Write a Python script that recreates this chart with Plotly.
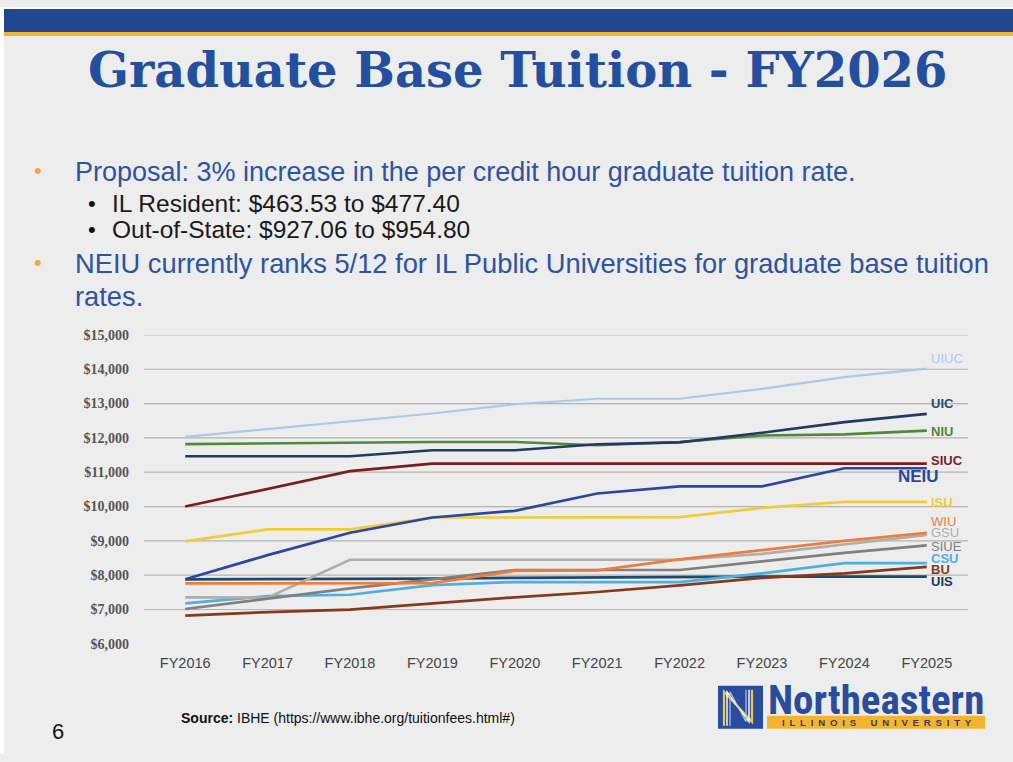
import plotly.graph_objects as go

W, H = 1013, 762

# ---------------- data ----------------
YEARS = ["FY2016", "FY2017", "FY2018", "FY2019", "FY2020",
         "FY2021", "FY2022", "FY2023", "FY2024", "FY2025"]

UIUC = [12030, 12250, 12480, 12710, 12980, 13140, 13140, 13430, 13770, 14020]
UIC = [11465, 11465, 11465, 11640, 11640, 11815, 11870, 12150, 12460, 12700]
NIU = [11820, 11840, 11880, 11880, 11880, 11785, 11880, 12070, 12105, 12210]
SIUC = [10000, 10525, 11030, 11250, 11250, 11250, 11250, 11250, 11250, 11250]
NEIU = [7880, 8585, 9235, 9680, 9875, 10380, 10590, 10590, 11115, 11115]
ISU = [8985, 9335, 9335, 9680, 9680, 9690, 9690, 9960, 10135, 10135]
WIU = [7760, 7760, 7760, 7770, 8125, 8140, 8460, 8730, 9000, 9230]
GSU = [7355, 7345, 8450, 8450, 8450, 8450, 8450, 8620, 8900, 9170]
SIUE = [7015, 7320, 7615, 7880, 8150, 8150, 8150, 8400, 8650, 8870]
CSU = [7180, 7390, 7430, 7710, 7800, 7800, 7800, 8050, 8350, 8350]
BU = [6820, 6925, 6995, 7180, 7355, 7510, 7700, 7920, 8050, 8240]
UIS = [7880, 7880, 7890, 7900, 7920, 7940, 7960, 7960, 7960, 7960]

Y_TICKS = [6000, 7000, 8000, 9000, 10000, 11000, 12000, 13000, 14000, 15000]
Y_TICK_TEXT = ["$6,000", "$7,000", "$8,000", "$9,000", "$10,000",
               "$11,000", "$12,000", "$13,000", "$14,000", "$15,000"]
GRID_VALUES = [7000, 8000, 9000, 10000, 11000, 12000, 13000, 14000, 15000]

SERIES = [
    ("UIUC", UIUC), ("UIS", UIS), ("CSU", CSU), ("GSU", GSU), ("SIUE", SIUE),
    ("WIU", WIU), ("BU", BU), ("ISU", ISU), ("SIUC", SIUC), ("NIU", NIU),
    ("UIC", UIC), ("NEIU", NEIU),
]

# ---------------- styles ----------------
COLORS = {
    "UIUC": "#A9CAEA", "UIC": "#213A64", "NIU": "#4F8A38", "SIUC": "#7A1E1E",
    "NEIU": "#2B47A0", "ISU": "#F0CB3A", "WIU": "#EB7E3C", "GSU": "#AEAEAE",
    "SIUE": "#808080", "CSU": "#4DB0E0", "BU": "#843B1A", "UIS": "#1D4A6E",
}
LABEL_COLORS = dict(COLORS)
LABEL_COLORS["UIC"] = "#23506E"
LABEL_COLORS["UIS"] = "#203A55"
# label vertical placement (value units) and style
LABEL_POS = {
    "UIUC": 14316, "UIC": 13007, "NIU": 12200, "SIUC": 11329, "NEIU": 10884,
    "ISU": 10118, "WIU": 9553, "GSU": 9233, "SIUE": 8826, "CSU": 8489,
    "BU": 8169, "UIS": 7809,
}
LABEL_BOLD = {"UIUC": False, "UIC": True, "NIU": True, "SIUC": True, "NEIU": True,
              "ISU": True, "WIU": False, "GSU": False, "SIUE": False, "CSU": True,
              "BU": True, "UIS": True}

BG = "#EDEDED"
BLUE_TEXT = "#2D53A3"
TITLE_BLUE = "#244F9F"
ORANGE = "#F0A932"

# The photographed page shows the figure slightly offset / compressed vertically;
# layout positions are given in target pixels and converted here.
Y_OFF, Y_SCALE = 6.0, 0.982


def px(x):
    return x / W


def py(y):
    yf = (y - Y_OFF) / Y_SCALE
    return 1 - yf / H


fig = go.Figure()
for name, vals in SERIES:
    fig.add_trace(go.Scatter(
        x=YEARS, y=vals, mode="lines", name=name,
        line=dict(color=COLORS[name], width=2.7 if name != "UIUC" else 2.2),
        hoverinfo="skip", showlegend=False,
    ))

shapes = []
for v in GRID_VALUES:
    shapes.append(dict(type="line", xref="x domain", x0=0, x1=1, yref="y", y0=v, y1=v,
                       line=dict(color="#B3B3B3", width=1.2), layer="below"))

# slide decorations
shapes += [
    dict(type="rect", xref="paper", yref="paper", x0=0, x1=1, y0=py(8), y1=1,
         fillcolor="#FFFFFF", line=dict(width=0), layer="below"),
    dict(type="rect", xref="paper", yref="paper", x0=0, x1=px(4), y0=0, y1=1,
         fillcolor="#FFFFFF", line=dict(width=0), layer="below"),
    dict(type="rect", xref="paper", yref="paper", x0=px(4), x1=1, y0=py(31), y1=py(8),
         fillcolor="#21478F", line=dict(width=0), layer="below"),
    dict(type="rect", xref="paper", yref="paper", x0=px(4), x1=1, y0=py(35), y1=py(31),
         fillcolor="#F2B432", line=dict(width=0), layer="below"),
    # logo: square
    dict(type="rect", xref="paper", yref="paper", x0=px(718), x1=px(763), y0=py(729), y1=py(686),
         fillcolor="#2A4C9E", line=dict(width=0), layer="above"),
    # logo: yellow bar
    dict(type="rect", xref="paper", yref="paper", x0=px(767), x1=px(985), y0=py(729), y1=py(716),
         fillcolor="#F3B52E", line=dict(width=0), layer="above"),
]
# logo N stripes
for off, col, wd in [(0, "#F3C640", 2.2), (3, "#FFFFFF", 1.4), (6, "#B8C4DC", 1.2)]:
    pts = [(724 + off, 726), (724 + off, 692), (752 - off, 722), (752 - off, 690)]
    path = "M " + " L ".join(f"{px(a):.5f},{py(b):.5f}" for a, b in pts)
    shapes.append(dict(type="path", xref="paper", yref="paper", path=path,
                       line=dict(color=col, width=wd), layer="above"))

annotations = []
# title
annotations.append(dict(
    text="<b>Graduate Base Tuition - FY2026</b>", x=px(517), y=py(69),
    xref="paper", yref="paper", xanchor="center", yanchor="middle", showarrow=False,
    font=dict(family="DejaVu Serif", size=48, color=TITLE_BLUE)))


def add_text(txt, x, y, size, color, family="Liberation Sans", anchor="left"):
    annotations.append(dict(text=txt, x=px(x), y=py(y), xref="paper", yref="paper",
                            xanchor=anchor, yanchor="middle", showarrow=False,
                            font=dict(family=family, size=size, color=color)))


add_text("•", 32, 170, 22, ORANGE)
add_text("Proposal: 3% increase in the per credit hour graduate tuition rate.", 73, 171, 27, BLUE_TEXT)
add_text("•", 86, 203, 22, "#111111")
add_text("IL Resident: $463.53 to $477.40", 110, 203, 24.5, "#1A1A1A")
add_text("•", 86, 229, 22, "#111111")
add_text("Out-of-State: $927.06 to $954.80", 110, 229, 24.5, "#1A1A1A")
add_text("•", 32, 262, 22, ORANGE)
add_text("NEIU currently ranks 5/12 for IL Public Universities for graduate base tuition", 73, 263, 27.3, BLUE_TEXT)
add_text("rates.", 73, 296, 27.3, BLUE_TEXT)

# source and page number
add_text("<b>Source:</b> IBHE (https://www.ibhe.org/tuitionfees.html#)", 179, 718, 14, "#111111")
add_text("6", 50, 732, 22, "#111111")

# logo text
annotations.append(dict(text="<b>Northeastern</b>", x=px(766), y=py(700), xref="paper", yref="paper",
                        xanchor="left", yanchor="middle", showarrow=False,
                        font=dict(family="Roboto Condensed, Liberation Sans Narrow, Liberation Sans", size=41,
                                  color="#2A4C9E")))
SP = "\u2002"
logo_sub = SP.join("ILLINOIS") + SP * 3 + SP.join("UNIVERSITY")
annotations.append(dict(text=f"<b>{logo_sub}</b>", x=px(877), y=py(723),
                        xref="paper", yref="paper", xanchor="center", yanchor="middle", showarrow=False,
                        font=dict(family="Liberation Sans", size=9.6, color="#3A3A60")))

# series labels
for name, _ in SERIES:
    big = name == "NEIU"
    annotations.append(dict(
        text=f"<b>{name}</b>" if LABEL_BOLD[name] else name,
        x="FY2025", xref="x", y=LABEL_POS[name], yref="y",
        xanchor="right" if big else "left", xshift=14 if big else 2,
        yanchor="middle", showarrow=False,
        font=dict(family="Liberation Sans", size=17 if big else 13, color=LABEL_COLORS[name])))

fig.update_layout(
    width=W, height=H,
    margin=dict(l=0, r=0, t=0, b=0),
    paper_bgcolor=BG, plot_bgcolor="rgba(0,0,0,0)",
    shapes=shapes, annotations=annotations,
    xaxis=dict(type="category", range=[-0.5, 9.5], domain=[px(144), px(968)],
               showgrid=False, zeroline=False, showline=False, ticks="",
               ticklabelstandoff=9,
               tickfont=dict(family="Liberation Sans", size=14.5, color="#454545")),
    yaxis=dict(range=[6000, 15000], domain=[py(643.9), py(334.5)],
               tickvals=Y_TICKS, ticktext=Y_TICK_TEXT,
               showgrid=False, zeroline=False, showline=False, ticks="",
               ticklabelstandoff=14,
               tickfont=dict(family="Liberation Serif", size=14, color="#555555", weight="bold")),
)

fig.write_html("out.html")
